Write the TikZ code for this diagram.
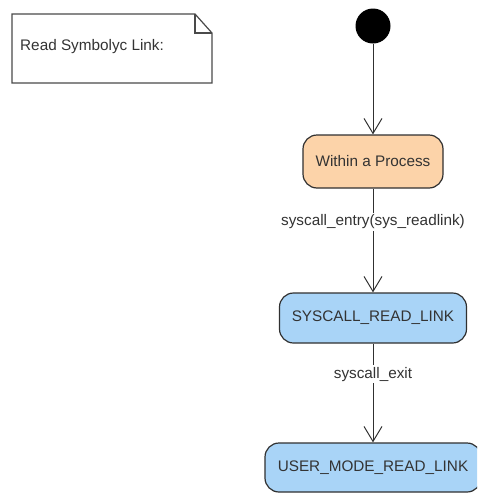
\documentclass[tikz,border=0pt]{standalone}
\usepackage{fontspec}
\setmainfont{Liberation Sans}
\usetikzlibrary{arrows.meta}
\definecolor{peach}{HTML}{FCD3A9}
\definecolor{skyfill}{HTML}{A9D4F7}
\definecolor{edge}{HTML}{303030}
\definecolor{ink}{HTML}{333333}
\definecolor{noteline}{HTML}{4A4A4A}

\begin{document}
\begin{tikzpicture}[x=1pt,y=-1pt,
  txt/.style={text=ink, font=\fontsize{15.3}{18}\selectfont},
  state/.style={txt, draw=edge, line width=1.2pt, rounded corners=14pt,
    inner sep=0pt},
  trans/.style={draw=edge, line width=1pt,
    -{Straight Barb[length=15pt,width=18pt,line width=1pt]}},
  lbl/.style={txt, fill=white, inner sep=2pt}]
\useasboundingbox (0,0) rectangle (477,493);
\clip (0,0) rectangle (477,493);

% note with folded corner
\draw[noteline, line width=1.2pt, line join=miter]
  (12,14) -- (195,14) -- (212,33) -- (212,83) -- (12,83) -- cycle;
\draw[noteline, line width=1.2pt] (195,14) -- (195,33) -- (212,33);
\node[txt, anchor=west, inner sep=0pt] (note) at (20,47) {Read Symbolyc Link:};

% initial state
\node[circle, fill=black, minimum size=35pt, inner sep=0pt] (start) at (373,26) {};

% states
\node[state, fill=peach, minimum width=140pt, minimum height=53pt]
  (within) at (373,161.5) {Within a Process};
\node[state, fill=skyfill, minimum width=187pt, minimum height=50pt]
  (sysread) at (373,318) {SYSCALL\_READ\_LINK};
\node[state, fill=skyfill, minimum width=216pt, minimum height=49pt]
  (userread) at (373,467.5) {USER\_MODE\_READ\_LINK};

% transitions
\draw[trans] (start) -- (within);
\draw[trans] (within) -- node[lbl, pos=0.32] (entry) {syscall\_entry(sys\_readlink)} (sysread);
\draw[trans] (sysread) -- node[lbl, pos=0.31] (exit) {syscall\_exit} (userread);
\end{tikzpicture}
\end{document}
